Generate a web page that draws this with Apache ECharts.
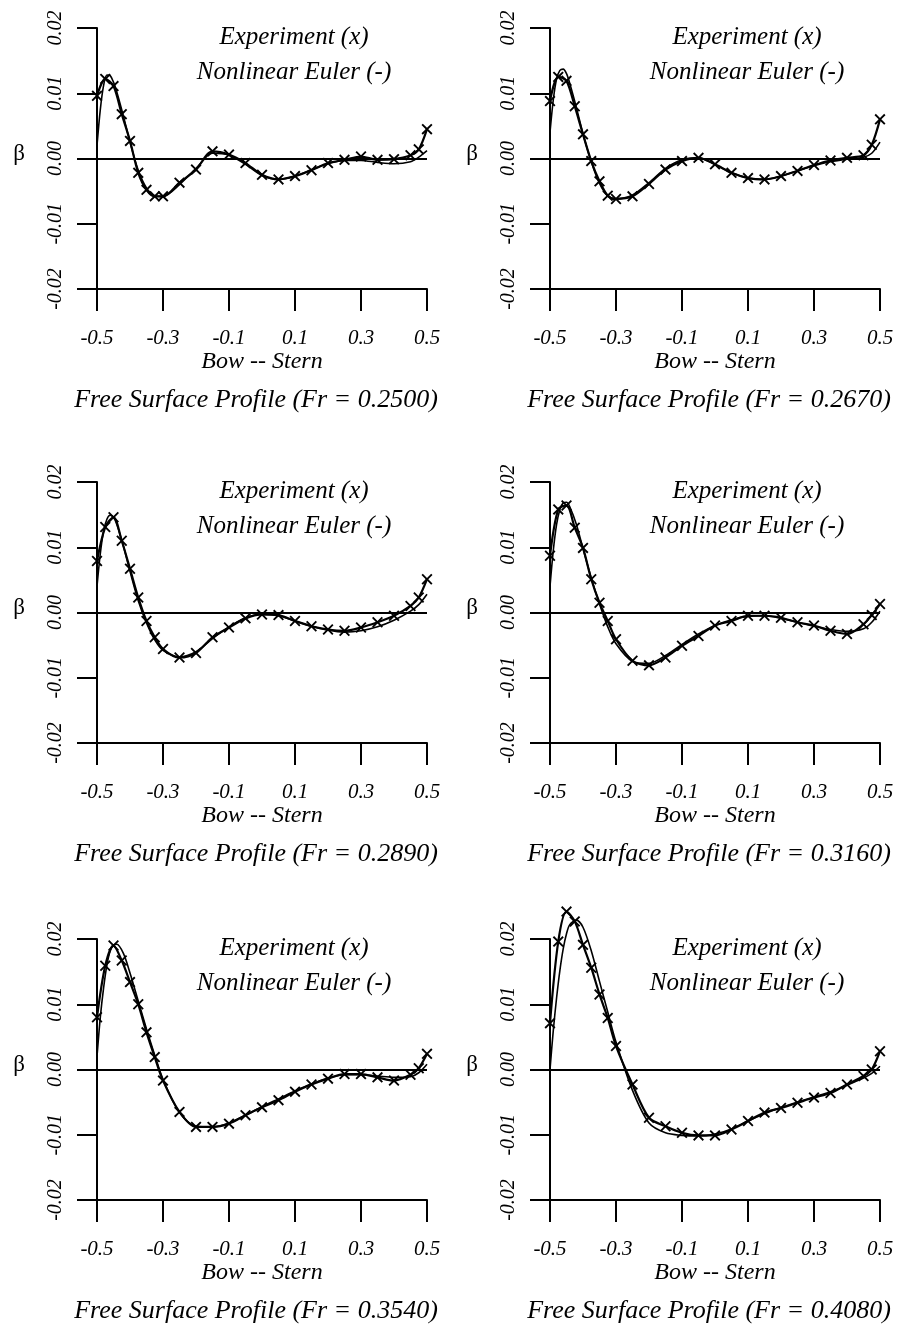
<!DOCTYPE html>
<html>
<head>
<meta charset="utf-8">
<script src="https://cdn.jsdelivr.net/npm/echarts@6/dist/echarts.min.js"></script>
<style>
html,body{margin:0;padding:0;background:#fff;}
#c{width:900px;height:1330px;}
</style>
</head>
<body>
<div id="c"></div>
<script>
// ---- data ----
const frLabels = ['0.2500', '0.2670', '0.2890', '0.3160', '0.3540', '0.4080'];
const xTicks = [-0.5, -0.3, -0.1, 0.1, 0.3, 0.5];
const yTicks = [-0.02, -0.01, 0.00, 0.01, 0.02];

const expX = [-0.5, -0.475, -0.45, -0.425, -0.4, -0.375, -0.35, -0.325, -0.3, -0.25, -0.2, -0.15, -0.1, -0.05, 0, 0.05, 0.1, 0.15, 0.2, 0.25, 0.3, 0.35, 0.4, 0.45, 0.475, 0.5];
const eulerX = [-0.5, -0.49, -0.48, -0.47, -0.46, -0.45, -0.44, -0.42, -0.4, -0.375, -0.35, -0.325, -0.3, -0.25, -0.2, -0.15, -0.1, -0.05, 0, 0.05, 0.1, 0.15, 0.2, 0.25, 0.3, 0.35, 0.4, 0.45, 0.475, 0.5];

const exp1 = [0.0096, 0.0122, 0.0111, 0.0068, 0.0027, -0.0022, -0.0048, -0.0058, -0.0058, -0.0037, -0.0017, 0.0011, 0.0006, -0.0007, -0.0025, -0.0032, -0.0027, -0.0018, -0.0007, -0.0002, 0.0003, -0.0002, -0.0001, 0.0005, 0.0014, 0.0045];
const eul1 = [0.002, 0.0075, 0.0112, 0.0128, 0.0127, 0.0117, 0.0102, 0.0065, 0.0025, -0.0018, -0.0045, -0.0057, -0.0058, -0.004, -0.0015, 0.0008, 0.0005, -0.0009, -0.0026, -0.0032, -0.0027, -0.0017, -0.0008, -0.0003, -0.0003, -0.0006, -0.0008, -0.0005, 0.0002, 0.0012];

const exp2 = [0.0088, 0.0125, 0.0119, 0.008, 0.0037, -0.0004, -0.0035, -0.0057, -0.0062, -0.0058, -0.0039, -0.0017, -0.0004, 0.0001, -0.0009, -0.0022, -0.003, -0.0032, -0.0027, -0.0019, -0.001, -0.0003, 0.0001, 0.0005, 0.0021, 0.006];
const eul2 = [0.004, 0.009, 0.0122, 0.0135, 0.0137, 0.013, 0.0115, 0.0078, 0.0038, -0.0005, -0.0038, -0.0057, -0.0062, -0.0056, -0.0037, -0.0015, -0.0002, 0.0001, -0.0009, -0.0022, -0.003, -0.0032, -0.0027, -0.0019, -0.0011, -0.0005, -0.0001, 0.0002, 0.0008, 0.0025];

const exp3 = [0.0079, 0.0131, 0.0146, 0.011, 0.0067, 0.0023, -0.0013, -0.0038, -0.0056, -0.0069, -0.0062, -0.0038, -0.0023, -0.0009, -0.0003, -0.0004, -0.0013, -0.0021, -0.0026, -0.0028, -0.0023, -0.0015, -0.0005, 0.001, 0.0023, 0.0051];
const eul3 = [0.004, 0.009, 0.0125, 0.0143, 0.0149, 0.0146, 0.0135, 0.0102, 0.0063, 0.0018, -0.0016, -0.0042, -0.0058, -0.0068, -0.006, -0.004, -0.0022, -0.0008, -0.0003, -0.0005, -0.0013, -0.0021, -0.0027, -0.003, -0.0028, -0.0022, -0.0012, 0.0002, 0.0012, 0.0028];

const exp4 = [0.0087, 0.0158, 0.0164, 0.013, 0.0099, 0.0051, 0.0015, -0.0013, -0.0041, -0.0074, -0.0081, -0.0069, -0.0051, -0.0036, -0.002, -0.0013, -0.0005, -0.0005, -0.0008, -0.0015, -0.002, -0.0028, -0.0033, -0.0018, -0.0004, 0.0013];
const eul4 = [0.004, 0.0095, 0.0135, 0.0158, 0.0168, 0.0169, 0.0162, 0.0135, 0.0098, 0.0053, 0.0013, -0.0022, -0.0048, -0.0075, -0.0078, -0.0066, -0.0049, -0.0033, -0.002, -0.0011, -0.0006, -0.0005, -0.0009, -0.0015, -0.0021, -0.0026, -0.0029, -0.0025, -0.0015, 0.0002];

const exp5 = [0.008, 0.0159, 0.019, 0.0167, 0.0134, 0.01, 0.0057, 0.0019, -0.0017, -0.0065, -0.0088, -0.0088, -0.0083, -0.007, -0.0058, -0.0047, -0.0034, -0.0023, -0.0014, -0.0007, -0.0007, -0.0012, -0.0017, -0.0008, 0.0002, 0.0024];
const eul5 = [0.002, 0.008, 0.0125, 0.016, 0.0182, 0.0191, 0.0192, 0.0178, 0.0148, 0.0105, 0.0062, 0.0022, -0.0015, -0.0066, -0.0087, -0.0088, -0.0082, -0.007, -0.0057, -0.0045, -0.0033, -0.0022, -0.0013, -0.0008, -0.0008, -0.001, -0.0012, -0.0011, -0.0005, 0.0008];

const exp6 = [0.0071, 0.0196, 0.0242, 0.0227, 0.0191, 0.0156, 0.0115, 0.0079, 0.0036, -0.0023, -0.0074, -0.0087, -0.0097, -0.0101, -0.0101, -0.0092, -0.0079, -0.0066, -0.0059, -0.0051, -0.0043, -0.0036, -0.0023, -0.001, 0.0, 0.0028];
const eul6 = [0.0, 0.006, 0.011, 0.0152, 0.0185, 0.0208, 0.0222, 0.0229, 0.0218, 0.0182, 0.0135, 0.0088, 0.0042, -0.0032, -0.0082, -0.0097, -0.0101, -0.0102, -0.0099, -0.0091, -0.0079, -0.0068, -0.0058, -0.005, -0.0042, -0.0034, -0.0024, -0.0013, -0.0006, 0.0005];

const expSets = [exp1, exp2, exp3, exp4, exp5, exp6];
const eulSets = [eul1, eul2, eul3, eul4, eul5, eul6];

// ---- layout ----
const colLeft = [97, 550];
const rowTop = [28, 482, 939];
const GW = 330, GH = 261;
const SERIF = "'Liberation Serif', 'DejaVu Serif', serif";
const XSYM = 'path://M0,1.2 L1.2,0 L5,3.8 L8.8,0 L10,1.2 L6.2,5 L10,8.8 L8.8,10 L5,6.2 L1.2,10 L0,8.8 L3.8,5 Z';

const grids = [], xAxes = [], yAxes = [], series = [], graphics = [];
for (let i = 0; i < 6; i++) {
  const left = colLeft[i % 2], top = rowTop[Math.floor(i / 2)];
  grids.push({left: left, top: top, width: GW, height: GH, containLabel: false});
  xAxes.push({
    type: 'value', gridIndex: i, min: -0.5, max: 0.5, position: 'bottom',
    axisLine: {show: true, onZero: false, lineStyle: {color: '#000', width: 2}},
    axisTick: {show: true, inside: false, length: 22, customValues: xTicks, lineStyle: {color: '#000', width: 2}},
    axisLabel: {show: true, customValues: xTicks, margin: 39, color: '#000',
      fontFamily: SERIF, fontStyle: 'italic', fontSize: 21,
      formatter: v => v.toFixed(1)},
    splitLine: {show: false}
  });
  yAxes.push({
    type: 'value', gridIndex: i, min: yTicks[0], max: yTicks[yTicks.length - 1], interval: 0.01, position: 'left',
    axisLine: {show: true, onZero: false, lineStyle: {color: '#000', width: 2}},
    axisTick: {show: true, inside: false, length: 20, lineStyle: {color: '#000', width: 2}},
    axisLabel: {show: true, rotate: 90, margin: 31, color: '#000',
      fontFamily: SERIF, fontStyle: 'italic', fontSize: 20,
      formatter: v => v.toFixed(2)},
    splitLine: {show: false}
  });
  series.push({
    type: 'line', name: 'Nonlinear Euler', xAxisIndex: i, yAxisIndex: i,
    data: eulerX.map((x, k) => [x, eulSets[i][k]]),
    smooth: 0.3, showSymbol: false, clip: false, silent: true,
    lineStyle: {color: '#000', width: 1.6},
    markLine: {silent: true, symbol: ['none', 'none'], label: {show: false},
      lineStyle: {color: '#000', width: 2, type: 'solid'},
      data: [{yAxis: 0}]}
  });
  series.push({
    type: 'line', name: 'Experiment', xAxisIndex: i, yAxisIndex: i,
    data: expX.map((x, k) => [x, expSets[i][k]]),
    smooth: 0.3, showSymbol: true, symbol: XSYM, symbolSize: 11, clip: false, silent: true,
    itemStyle: {color: '#000'},
    lineStyle: {color: '#000', width: 2.2}
  });
  const tStyle = (text, x, y, size, italic) => ({
    type: 'text', silent: true,
    style: {text: text, x: x, y: y, textAlign: 'center', textVerticalAlign: 'middle',
      font: (italic ? 'italic ' : '') + size + 'px ' + SERIF, fill: '#000'}
  });
  graphics.push(tStyle('Experiment (x)', left + 197, top + 9, 25, true));
  graphics.push(tStyle('Nonlinear Euler (-)', left + 197, top + 44, 25, true));
  graphics.push(tStyle('β', left - 78, top + GH / 2 - 5, 23, false));
  graphics.push(tStyle('Bow -- Stern', left + 165, top + GH + 73, 24, true));
  graphics.push(tStyle('Free Surface Profile (Fr = ' + frLabels[i] + ')', left + 159, top + GH + 111, 26, true));
}

const chart = echarts.init(document.getElementById('c'), null, {renderer: 'canvas'});
chart.setOption({
  backgroundColor: '#fff',
  animation: false,
  grid: grids,
  xAxis: xAxes,
  yAxis: yAxes,
  series: series,
  graphic: graphics
});
</script>
</body>
</html>
